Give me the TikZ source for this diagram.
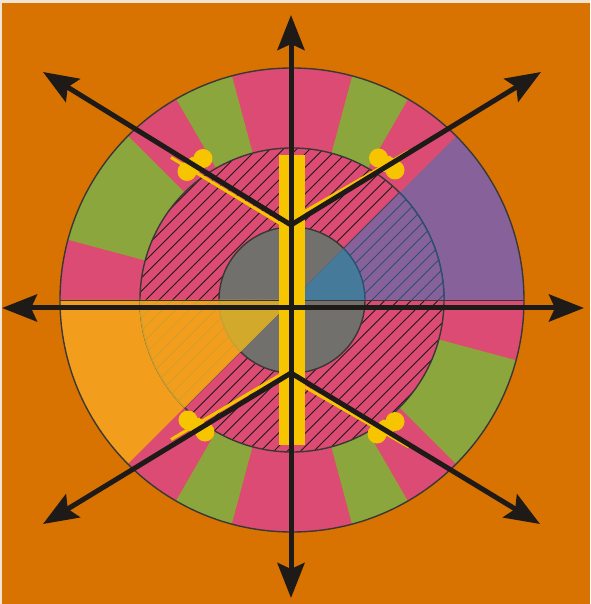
\documentclass[tikz,border=0pt]{standalone}
\usetikzlibrary{arrows.meta}

\definecolor{bgorange}{HTML}{D87200}
\definecolor{edgecream}{HTML}{F3E3D2}
\definecolor{wpink}{HTML}{DC4B73}
\definecolor{wgreen}{HTML}{8BA63C}
\definecolor{wpurple}{HTML}{87629A}
\definecolor{worange}{HTML}{F29E1C}
\definecolor{coregray}{HTML}{72706C}
\definecolor{coreblue}{HTML}{457A9A}
\definecolor{coreolive}{HTML}{D3A92B}
\definecolor{hatchblue}{HTML}{2E4F73}
\definecolor{hatcholive}{HTML}{C9A032}
\definecolor{baryellow}{HTML}{F7C400}
\definecolor{inkblack}{HTML}{1E1A18}
\definecolor{rimgray}{HTML}{3A3836}

\begin{document}
\begin{tikzpicture}[x=1pt, y=1pt,
    rim/.style={draw=rimgray, line width=1.4pt},
    hatch/.style={line width=0.9pt},
    yline/.style={draw=baryellow, line width=3pt},
    ray/.style={draw=inkblack, line width=5pt,
      {Stealth[length=35pt, width=27pt, inset=6pt]}-{Stealth[length=35pt, width=27pt, inset=6pt]}}]
  \useasboundingbox (-292,-304) rectangle (298,300);

  % background
  \fill[edgecream] (-292,-304) rectangle (298,300);
  \fill[bgorange] (-290,-304) rectangle (298,297);

  % outer ring sectors
  \foreach \a/\b/\c in {0/45/wpurple, 45/60/wpink, 60/75/wgreen, 75/105/wpink,
      105/120/wgreen, 120/135/wpink, 135/165/wgreen, 165/180/wpink,
      180/225/worange, 225/240/wpink, 240/255/wgreen, 255/285/wpink,
      285/300/wgreen, 300/315/wpink, 315/345/wgreen, 345/360/wpink}
    \fill[\c] (0,0) -- (\a:232) arc[start angle=\a, end angle=\b, radius=232] -- cycle;

  % hatched disc
  \fill[wpink] (0,0) circle[radius=152];
  \begin{scope}
    \clip (0,0) circle[radius=152];
    \foreach \c in {-306,-292.7,...,306}
      \draw[hatch, inkblack] (-160,-160+\c) -- (160,160+\c);
  \end{scope}
  \draw[rim] (0,0) circle[radius=152];

  % core
  \fill[coregray] (0,0) circle[radius=73];
  \draw[rim] (0,0) circle[radius=73];

  % purple wedge
  \fill[wpurple] (0,0) -- (0:152) arc[start angle=0, end angle=45, radius=152] -- cycle;
  \begin{scope}
    \clip (0,0) -- (0:152) arc[start angle=0, end angle=45, radius=152] -- cycle;
    \foreach \c in {-306,-292.7,...,306}
      \draw[hatch, hatchblue] (-160,-160+\c) -- (160,160+\c);
  \end{scope}
  \draw[rim, draw=hatchblue] (0:152) arc[start angle=0, end angle=45, radius=152];
  \fill[coreblue] (0,0) -- (0:73) arc[start angle=0, end angle=45, radius=73] -- cycle;
  \draw[rim, draw=hatchblue] (0:73) arc[start angle=0, end angle=45, radius=73];

  % orange wedge
  \fill[worange] (0,0) -- (180:152) arc[start angle=180, end angle=225, radius=152] -- cycle;
  \begin{scope}
    \clip (0,0) -- (180:152) arc[start angle=180, end angle=225, radius=152] -- cycle;
    \foreach \c in {-306,-292.7,...,306}
      \draw[hatch, hatcholive, line width=0.7pt] (-160,-160+\c) -- (160,160+\c);
  \end{scope}
  \draw[rim, draw=hatcholive] (180:152) arc[start angle=180, end angle=225, radius=152];
  \fill[coreolive] (0,0) -- (180:73) arc[start angle=180, end angle=225, radius=73] -- cycle;
  \draw[rim, draw=hatcholive] (180:73) arc[start angle=180, end angle=225, radius=73];

  % wedge edges and rim
  \draw[rimgray, line width=0.8pt] (-232,0) -- (232,0);
  \draw[rim] (0,0) circle[radius=232];

  % yellow bar, needles and blobs
  \fill[baryellow] (-13,-145) rectangle (13,145);
  \coordinate (ntl0) at (-12,76.5);  \coordinate (ntl1) at (-121,142.5);
  \coordinate (ntr0) at (12,88);     \coordinate (ntr1) at (117,149);
  \coordinate (nbl0) at (-12,-75);   \coordinate (nbl1) at (-121,-139.5);
  \coordinate (nbr0) at (12,-86.5);  \coordinate (nbr1) at (117,-147);
  \draw[yline] (ntl0) -- (ntl1);
  \draw[yline] (ntr0) -- (ntr1);
  \draw[yline] (nbl0) -- (nbl1);
  \draw[yline] (nbr0) -- (nbr1);
  \foreach \p/\q in {-89/141.5, -105/128.5, 86.5/142, 103/130,
      -104/-120, -87/-132, 103/-121.5, 85/-134}
    \fill[baryellow] (\p,\q) circle[radius=9.5];
  \foreach \p/\q in {-97/135, 94.75/136, -95.5/-126, 94/-127.75}
    \fill[baryellow] (\p,\q) circle[radius=8.5];

  % axes and rays
  \coordinate (top) at (-1,285);
  \coordinate (bot) at (-1,-298);
  \coordinate (lft) at (-290,-8);
  \coordinate (rgt) at (292,-8);
  \coordinate (vup) at (-1,75);
  \coordinate (vdn) at (-1,-73);
  \coordinate (tl) at (-249,228);
  \coordinate (tr) at (249,228);
  \coordinate (bl) at (-249,-224);
  \coordinate (br) at (248,-224);
  \draw[ray] (bot) -- (top);
  \draw[ray] (lft) -- (rgt);
  \draw[ray] (tl) -- (vup) -- (tr);
  \draw[ray] (bl) -- (vdn) -- (br);
\end{tikzpicture}
\end{document}
